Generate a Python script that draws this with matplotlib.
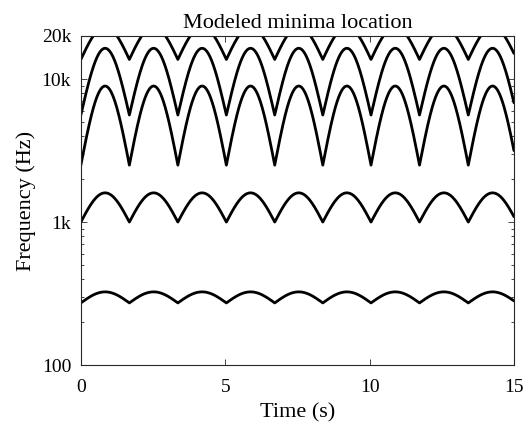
#!/usr/bin/env python3

import matplotlib

matplotlib.use("Agg")
import matplotlib.pyplot as plt
import numpy as np
from matplotlib.ticker import FixedLocator, LogLocator, NullFormatter

# minima tracks (Hz)
trough_hz = [272, 1000, 2500, 5600, 13700]
peak_hz = [325, 1600, 8930, 16400, 23200]
# times of the cusps (s), same for every track
trough_times = [0.0, 1.68, 3.36, 5.04, 6.715, 8.38, 10.05, 11.73, 13.42, 15.1]

x_ticks = [0, 5, 10, 15]
y_ticks = [100, 1000, 10000, 20000]
y_tick_labels = ["100", "1k", "10k", "20k"]

plt.rcParams["font.family"] = ["Liberation Serif", "DejaVu Serif"]
plt.rcParams["mathtext.fontset"] = "stix"

frame = "#262626"


def track(lo, hi):
    ts, fs = [], []
    for a, b in zip(trough_times[:-1], trough_times[1:]):
        t = np.linspace(a, b, 120)
        arch = np.abs(np.sin(np.pi * (t - a) / (b - a)))
        ts.append(t)
        fs.append(10 ** (np.log10(lo) + (np.log10(hi) - np.log10(lo)) * arch))
    return np.concatenate(ts), np.concatenate(fs)


fig = plt.figure(figsize=(5.32, 4.28), dpi=100)
ax = fig.add_axes([0.152, 0.147, 0.814, 0.769])

for lo, hi in zip(trough_hz, peak_hz):
    t, f = track(lo, hi)
    ax.plot(t, f, color="black", linewidth=2.0, solid_capstyle="round")

ax.set_yscale("log")
ax.set_xlim(0, 15)
ax.set_ylim(100, 20000)
ax.xaxis.set_major_locator(FixedLocator(x_ticks))
ax.yaxis.set_major_locator(FixedLocator(y_ticks))
ax.set_yticklabels(y_tick_labels)
ax.yaxis.set_minor_locator(LogLocator(base=10, subs=np.arange(2, 10)))
ax.yaxis.set_minor_formatter(NullFormatter())

ax.tick_params(which="both", direction="in", top=True, right=True,
               colors=frame, labelcolor="black", labelsize=14, width=0.6)
ax.tick_params(which="major", length=4)
ax.tick_params(which="minor", length=2)
ax.tick_params(axis="x", which="major", pad=10)
ax.tick_params(axis="y", which="major", pad=7)
for s in ax.spines.values():
    s.set_color(frame)
    s.set_linewidth(0.8)

ax.set_xlabel("Time (s)", fontsize=16, labelpad=5)
ax.set_ylabel("Frequency (Hz)", fontsize=16, labelpad=4)
ax.set_title("Modeled minima location", fontsize=16, pad=6)

fig.savefig("out.png", dpi=100)
plt.close(fig)
